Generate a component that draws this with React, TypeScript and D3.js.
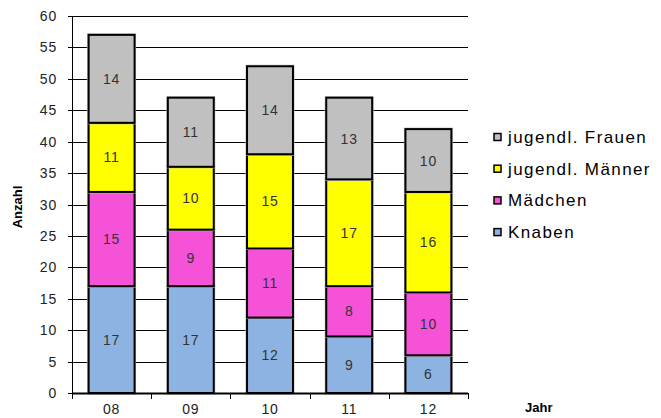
import React from "react";
import * as d3 from "d3";

const years = ["08", "09", "10", "11", "12"];
const knaben = [17, 17, 12, 9, 6];
const maedchen = [15, 9, 11, 8, 10];
const maenner = [11, 10, 15, 17, 16];
const frauen = [14, 11, 14, 13, 10];
const seriesNames = ["Knaben", "Mädchen", "jugendl. Männer", "jugendl. Frauen"];
const seriesColors = ["#8DB3E2", "#F652D8", "#FFFF00", "#C0C0C0"];
const yTicks = [0, 5, 10, 15, 20, 25, 30, 35, 40, 45, 50, 55, 60];

export default function App() {
  const W = 661, H = 418;
  const left = 72, right = 468, top = 16, bottom = 393;
  const x = d3.scaleBand().domain(years).range([left, right]).paddingInner(0.42).paddingOuter(0.21);
  const y = d3.scaleLinear().domain([0, 60]).range([bottom, top]);
  const seriesData = [knaben, maedchen, maenner, frauen];
  const rows = years.map((yr, i) => {
    const r: any = { year: yr };
    seriesNames.forEach((n, k) => (r[n] = seriesData[k][i]));
    return r;
  });
  const stack = d3.stack<any>().keys(seriesNames)(rows);
  const font = "'Liberation Sans', Arial, sans-serif";
  const step = (right - left) / years.length;
  const legendOrder = [3, 2, 1, 0];

  return (
    <svg width={W} height={H} style={{ position: "absolute", left: 0, top: 0, background: "#fff" }} fontFamily={font}>
      {yTicks.map((t) => (
        <g key={t}>
          <line x1={left - 4} x2={right} y1={Math.round(y(t)) + 0.5} y2={Math.round(y(t)) + 0.5} stroke="#000" strokeWidth={1} />
          <text x={57} y={y(t) + 5} textAnchor="end" fontSize={14} letterSpacing={0.8} fill="#222">{t}</text>
        </g>
      ))}
      <line x1={left + 0.5} x2={left + 0.5} y1={top} y2={bottom + 5} stroke="#000" />
      {d3.range(years.length + 1).map((i) => (
        <line key={i} x1={Math.round(left + i * step) + 0.5} x2={Math.round(left + i * step) + 0.5} y1={bottom} y2={bottom + 6} stroke="#000" />
      ))}
      {stack.map((s, k) =>
        s.map((d, i) => {
          const x0 = x(years[i])!;
          const y0 = y(d[1]);
          const h = y(d[0]) - y(d[1]);
          return (
            <g key={k + "-" + i}>
              <rect x={x0 - 1} y={y0 - 1} width={x.bandwidth() + 2} height={h + 2} fill="none" stroke="#bbb" strokeWidth={1} />
              <rect x={x0} y={y0} width={x.bandwidth()} height={h} fill={seriesColors[k]} stroke="#000" strokeWidth={2} />
              <text x={x0 + x.bandwidth() / 2} y={y0 + h / 2 + 5} textAnchor="middle" fontSize={14} letterSpacing={0.8} fill="#333">
                {seriesData[k][i]}
              </text>
            </g>
          );
        })
      )}
      <line x1={left} x2={right} y1={bottom + 0.5} y2={bottom + 0.5} stroke="#000" strokeWidth={2} />
      {years.map((yr) => (
        <text key={yr} x={x(yr)! + x.bandwidth() / 2} y={414} textAnchor="middle" fontSize={14} letterSpacing={0.8} fill="#222">{yr}</text>
      ))}
      <text x={525} y={412} fontSize={13} fontWeight="bold" fill="#000">Jahr</text>
      <text transform="translate(22,207) rotate(-90)" textAnchor="middle" fontSize={13} fontWeight="bold" fill="#000">Anzahl</text>
      {legendOrder.map((k, j) => {
        const cy = 137 + j * 31.7;
        return (
          <g key={k}>
            <rect x={494} y={cy - 3.5} width={7} height={7} fill={seriesColors[k]} stroke="#000" strokeWidth={1.5} />
            <text x={508} y={cy + 6} fontSize={17} letterSpacing={1.4} fill="#000">{seriesNames[k]}</text>
          </g>
        );
      })}
    </svg>
  );
}
